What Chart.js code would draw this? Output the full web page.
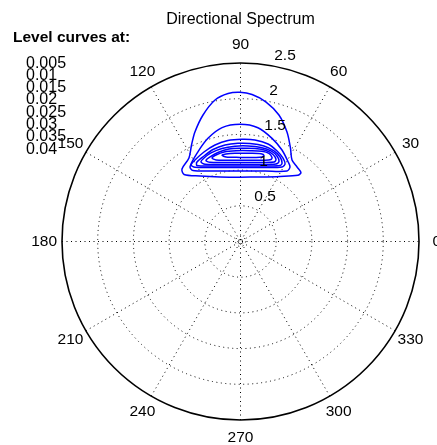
<!DOCTYPE html>
<html>
<head>
<meta charset="utf-8">
<script src="https://cdn.jsdelivr.net/npm/chart.js@4/dist/chart.umd.min.js"></script>
<style>
html,body{margin:0;padding:0;background:#fff;}
#c{display:block;}
</style>
</head>
<body>
<canvas id="c" width="437" height="445"></canvas>
<script>
// ---- data (theta in degrees, r in radial units) ----
const titleText = 'Directional Spectrum';
const legendTitle = 'Level curves at:';
const levelLabels = ['0.005','0.01','0.015','0.02','0.025','0.03','0.035','0.04'];
const angleTicks = [0,30,60,90,120,150,180,210,240,270,300,330];
const radialTicks = [0.5,1,1.5,2,2.5];
const rMax = 2.5;
const centerRing = 0.07;

const c005Theta = [90.4,73.2,58.7,49.1,48.8,52.8,57.7,61.9,67.0,73.1,79.6,85.5,90.2,94.8,100.2,106.5,112.6,116.9,121.7,128.9,130.1,121.7,107.6];
const c005R     = [0.901,0.944,1.066,1.226,1.285,1.310,1.350,1.485,1.666,1.852,1.986,2.065,2.090,2.080,2.014,1.848,1.661,1.516,1.374,1.305,1.227,1.078,0.948];

const c010Theta = [90.4,70.8,56.6,56.4,59.2,65.6,73.0,81.3,90.2,99.2,107.5,115.3,124.0,123.8,109.9];
const c010R     = [0.987,1.045,1.183,1.253,1.301,1.407,1.511,1.612,1.641,1.615,1.515,1.391,1.264,1.196,1.050];

const c015Theta = [90.4,71.7,60.9,60.1,63.0,68.0,74.2,81.9,89.2,97.1,104.8,112.2,119.2,122.9,121.5,109.0];
const c015R     = [1.036,1.091,1.195,1.252,1.312,1.367,1.419,1.436,1.431,1.426,1.398,1.354,1.307,1.276,1.219,1.096];

const c020Theta = [90.4,72.0,62.5,62.1,64.9,69.7,76.2,84.5,91.5,99.1,106.6,113.1,118.7,119.8,108.7];
const c020R     = [1.057,1.112,1.200,1.244,1.307,1.352,1.377,1.379,1.376,1.369,1.345,1.302,1.269,1.227,1.116];

const c025Theta = [90.4,75.8,65.4,64.3,66.9,71.4,77.7,85.5,93.3,101.3,108.4,113.6,116.4,114.7,103.5];
const c025R     = [1.078,1.112,1.193,1.244,1.302,1.338,1.347,1.342,1.337,1.328,1.307,1.276,1.244,1.190,1.109];

const c030Theta = [86.7,74.8,67.1,66.6,69.5,74.3,81.1,89.1,97.1,104.2,109.8,113.1,111.1,101.1];
const c030R     = [1.108,1.147,1.209,1.252,1.301,1.324,1.318,1.305,1.305,1.286,1.258,1.233,1.189,1.127];

const c035Theta = [83.3,73.2,69.6,69.4,72.1,76.6,84.0,92.8,100.4,105.8,108.8,106.7,97.4];
const c035R     = [1.147,1.189,1.225,1.256,1.296,1.299,1.279,1.273,1.275,1.259,1.236,1.192,1.148];

const c040Theta = [90.3,80.2,75.7,74.7,76.8,83.9,93.6,99.4,102.1,99.7];
const c040R     = [1.178,1.195,1.221,1.249,1.262,1.242,1.238,1.242,1.235,1.200];

const contourThetas = [c005Theta,c010Theta,c015Theta,c020Theta,c025Theta,c030Theta,c035Theta,c040Theta];
const contourRs     = [c005R,c010R,c015R,c020R,c025R,c030R,c035R,c040R];

// ---- build datasets (polar -> cartesian, closed loops) ----
function toXY(th, r){
  const pts = th.map((t,i)=>({x: r[i]*Math.cos(t*Math.PI/180), y: r[i]*Math.sin(t*Math.PI/180)}));
  pts.push({x: pts[0].x, y: pts[0].y});
  return pts;
}
const datasets = contourThetas.map((th,i)=>({
  label: levelLabels[i],
  data: toXY(th, contourRs[i]),
  showLine: true,
  borderColor: '#0000ff',
  borderWidth: 1.5,
  pointRadius: 0,
  tension: 0.3,
  fill: false,
  clip: false
}));

const FONT = '"Liberation Sans", Arial, Helvetica, sans-serif';

const polarPlugin = {
  id: 'polarGrid',
  beforeDatasetsDraw(chart){
    const {ctx, scales:{x,y}} = chart;
    const cx = x.getPixelForValue(0), cy = y.getPixelForValue(0);
    const rp = v => x.getPixelForValue(v) - cx;
    ctx.save();
    ctx.strokeStyle = '#000';
    ctx.lineWidth = 1;
    ctx.setLineDash([1,3.5]);
    [centerRing].concat(radialTicks.filter(v=>v<rMax)).forEach(v=>{
      ctx.beginPath(); ctx.arc(cx,cy,rp(v),0,Math.PI*2); ctx.stroke();
    });
    angleTicks.filter(a=>a<180).forEach(a=>{
      const c = Math.cos(a*Math.PI/180), s = Math.sin(a*Math.PI/180);
      ctx.beginPath();
      ctx.moveTo(x.getPixelForValue(-rMax*c), y.getPixelForValue(-rMax*s));
      ctx.lineTo(x.getPixelForValue(rMax*c), y.getPixelForValue(rMax*s));
      ctx.stroke();
    });
    ctx.setLineDash([]);
    ctx.strokeStyle = '#000';
    ctx.lineWidth = 1.6;
    ctx.beginPath(); ctx.arc(cx,cy,rp(rMax),0,Math.PI*2); ctx.stroke();
    ctx.restore();
  },
  afterDatasetsDraw(chart){
    const {ctx, scales:{x,y}} = chart;
    ctx.save();
    ctx.fillStyle = '#000';
    ctx.font = '15.5px ' + FONT;
    // angle labels
    ctx.textAlign = 'center'; ctx.textBaseline = 'middle';
    angleTicks.forEach(a=>{
      const rr = 1.1*rMax;
      ctx.fillText(String(a), x.getPixelForValue(rr*Math.cos(a*Math.PI/180)), y.getPixelForValue(rr*Math.sin(a*Math.PI/180)));
    });
    // radial labels at 82 deg
    ctx.textAlign = 'left'; ctx.textBaseline = 'bottom';
    const a82 = 82*Math.PI/180;
    radialTicks.forEach(v=>{
      const rr = v + 0.025;
      ctx.fillText('  ' + v, x.getPixelForValue(rr*Math.cos(a82)), y.getPixelForValue(rr*Math.sin(a82)));
    });
    // title
    ctx.font = '16px ' + FONT;
    ctx.textAlign = 'center'; ctx.textBaseline = 'alphabetic';
    ctx.fillText(titleText, x.getPixelForValue(0), 23.5);
    // level curves legend
    ctx.textAlign = 'left';
    ctx.font = 'bold 15.5px ' + FONT;
    ctx.fillText(legendTitle, 13, 42);
    ctx.font = '16px ' + FONT;
    levelLabels.forEach((t,i)=>{
      ctx.fillText(t, 26, 67.5 + i*12.3);
    });
    ctx.restore();
  }
};

new Chart(document.getElementById('c'), {
  type: 'scatter',
  data: { datasets },
  options: {
    responsive: false,
    animation: false,
    layout: { padding: { left: 62, right: 18, top: 63, bottom: 25 } },
    scales: {
      x: { type: 'linear', min: -rMax, max: rMax, display: false },
      y: { type: 'linear', min: -rMax, max: rMax, display: false }
    },
    plugins: { legend: { display: false }, tooltip: { enabled: false }, title: { display: false } }
  },
  plugins: [polarPlugin]
});
</script>
</body>
</html>
